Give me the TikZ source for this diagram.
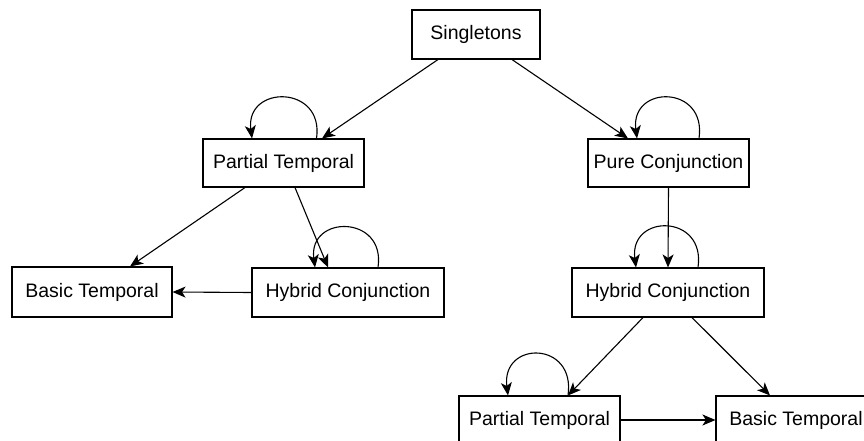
\documentclass[tikz,border=0pt]{standalone}
\usepackage{fontspec}
\setmainfont{Liberation Sans}
\usetikzlibrary{arrows.meta}
\begin{document}
\begin{tikzpicture}[x=1pt,y=-1pt,
  box/.style={draw=black,line width=1.1pt,fill=white,inner sep=0pt,
    font=\fontsize{19.5}{23}\selectfont,text=black},
  edge/.style={line width=1.1pt,-{Stealth[length=13pt,width=11pt,inset=3.5pt]}}]
\useasboundingbox (0,0) rectangle (864,441);
\clip (0,0) rectangle (864,441);

% state boxes
\node[box,minimum width=128pt,minimum height=49pt] (sing) at (476,34.5) {Singletons};
\node[box,minimum width=161pt,minimum height=48pt] (ptl) at (283.5,163) {Partial Temporal};
\node[box,minimum width=161pt,minimum height=48pt] (pure) at (668.5,163) {Pure Conjunction};
\node[box,minimum width=160pt,minimum height=50pt] (btl) at (92,292) {Basic Temporal};
\node[box,minimum width=192pt,minimum height=49pt] (hcl) at (348,292.5) {Hybrid Conjunction};
\node[box,minimum width=192pt,minimum height=49pt] (hcr) at (668,292.5) {Hybrid Conjunction};
\node[box,minimum width=161pt,minimum height=48pt] (ptb) at (539.5,420) {Partial Temporal};
\node[box,minimum width=160pt,minimum height=48pt] (btb) at (796,420) {Basic Temporal};

% transitions
\draw[edge] ([xshift=-38pt]sing.south) -- ([xshift=38.5pt]ptl.north);
\draw[edge] ([xshift=36pt]sing.south) -- ([xshift=-40.5pt]pure.north);
\draw[edge] ([xshift=-38.5pt]ptl.south) -- ([xshift=38pt]btl.north);
\draw[edge] ([xshift=11.5pt]ptl.south) -- ([xshift=-20pt]hcl.north);
\draw[edge] (hcl.west) -- (btl.east);
\draw[edge] (pure.south) -- (hcr.north);
\draw[edge] ([xshift=-25pt]hcr.south) -- ([xshift=28.5pt]ptb.north);
\draw[edge] ([xshift=24pt]hcr.south) -- ([xshift=-26pt]btb.north);
\draw[edge] (ptb.east) -- (btb.west);

% self loops
\draw[edge] ([xshift=33pt]ptl.north) .. controls +(8,-54) and +(-7,-54) .. ([xshift=-31.5pt]ptl.north);
\draw[edge] ([xshift=30.5pt]pure.north) .. controls +(8,-54) and +(-7,-54) .. ([xshift=-31.5pt]pure.north);
\draw[edge] ([xshift=30pt]hcl.north) .. controls +(8,-53) and +(-7,-53) .. ([xshift=-33pt]hcl.north);
\draw[edge] ([xshift=30pt]hcr.north) .. controls +(8,-54) and +(-7,-54) .. ([xshift=-32pt]hcr.north);
\draw[edge] ([xshift=28.5pt]ptb.north) .. controls +(8,-55) and +(-7,-55) .. ([xshift=-31.5pt]ptb.north);
\end{tikzpicture}
\end{document}
